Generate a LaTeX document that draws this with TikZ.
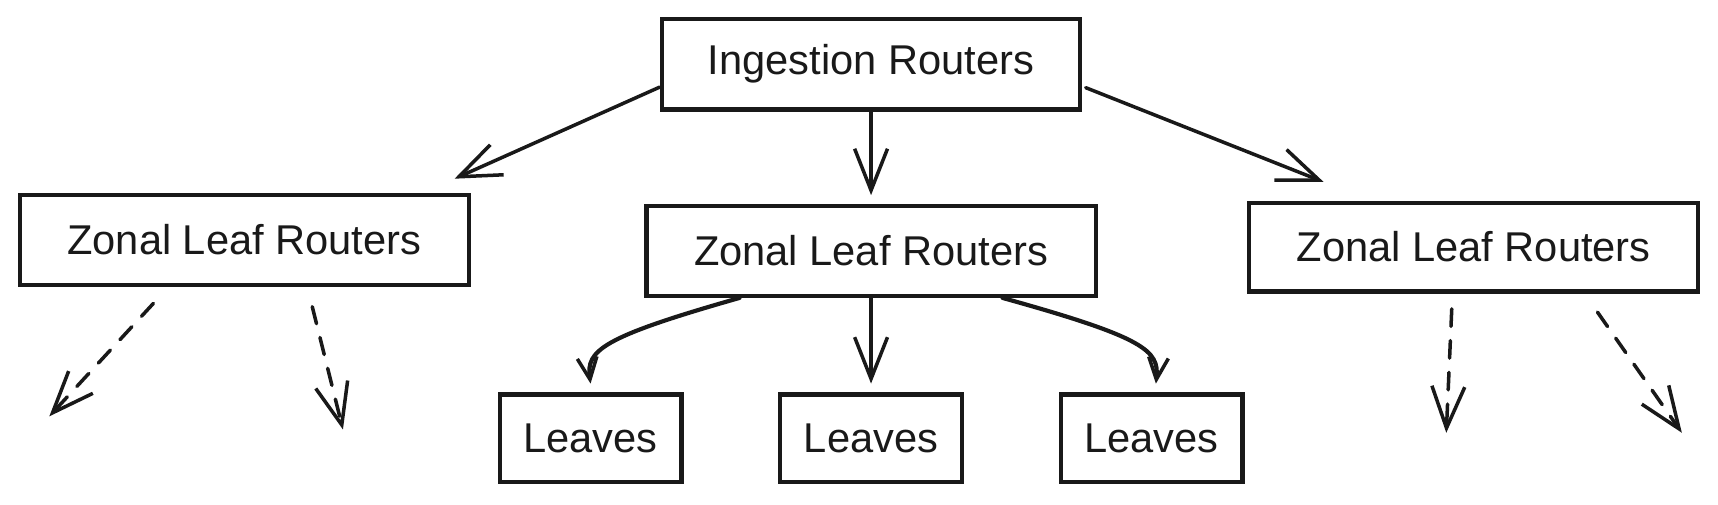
\documentclass[tikz,border=0pt]{standalone}
\usepackage{fontspec}
\setmainfont{Liberation Sans}
\usetikzlibrary{arrows.meta,calc}
\tikzset{
  box/.style={draw=black!90, line width=3.8pt, inner sep=0pt, font=\fontsize{38}{44}\selectfont, text=black!90},
  conn/.style={draw=black!90, line width=3.2pt, line cap=round, line join=round,
    -{Straight Barb[length=38pt,width=30pt,line width=3.2pt]}},
  curv/.style={draw=black!90, line width=3.8pt, line cap=round, line join=round,
    -{Straight Barb[length=20pt,width=18pt,line width=3.2pt]}},
  dconn/.style={conn, dash pattern=on 16pt off 13pt}
}
\begin{document}
\begin{tikzpicture}[x=1pt,y=-1pt]
\useasboundingbox (0,0) rectangle (1568,460);
\fill[white] (0,0) rectangle (1568,460);

\node[box, minimum width=382pt, minimum height=83pt] (ing) at (795,58.5) {Ingestion Routers};
\node[box, minimum width=410pt, minimum height=82pt] (zl) at (223,219) {Zonal Leaf Routers};
\node[box, minimum width=410pt, minimum height=82pt] (zm) at (795,229) {Zonal Leaf Routers};
\node[box, minimum width=410pt, minimum height=81pt] (zr) at (1345,225.5) {Zonal Leaf Routers};
\node[box, minimum width=166pt, minimum height=80pt] (l1) at (539,400) {Leaves};
\node[box, minimum width=166pt, minimum height=80pt] (l2) at (795,400) {Leaves};
\node[box, minimum width=166pt, minimum height=80pt] (l3) at (1051,400) {Leaves};

% free ends of dashed arrows
\coordinate (dl1) at (45,380);
\coordinate (dl2) at (313,392);
\coordinate (dr1) at (1320,395);
\coordinate (dr2) at (1535,395);

% top-level connectors
\draw[conn] ([yshift=-21pt]ing.west) -- ([shift={(-15pt,13pt)}]zl.north east);
\draw[conn] (ing.south) -- ([yshift=8pt]zm.north);
\draw[conn] ([shift={(3pt,-21.5pt)}]ing.east) -- ([shift={(70pt,17pt)}]zr.north west);

% middle zonal to leaves
\draw[curv] ([xshift=-120pt]zm.south) .. controls (548,308) and (535,320) .. ([yshift=8pt]l1.north);
\draw[conn] (zm.south) -- ([yshift=8pt]l2.north);
\draw[curv] ([xshift=120pt]zm.south) .. controls (1045,308) and (1058,320) .. ([shift={(4pt,8pt)}]l3.north);

% dashed arrows
\draw[dconn] ([shift={(-83pt,-15pt)}]zl.south) -- (dl1);
\draw[dconn] ([shift={(62pt,-18pt)}]zl.south) -- (dl2);
\draw[dconn] ([shift={(-20pt,-14pt)}]zr.south) -- (dr1);
\draw[dconn] ([shift={(113pt,-17pt)}]zr.south) -- (dr2);
\end{tikzpicture}
\end{document}
